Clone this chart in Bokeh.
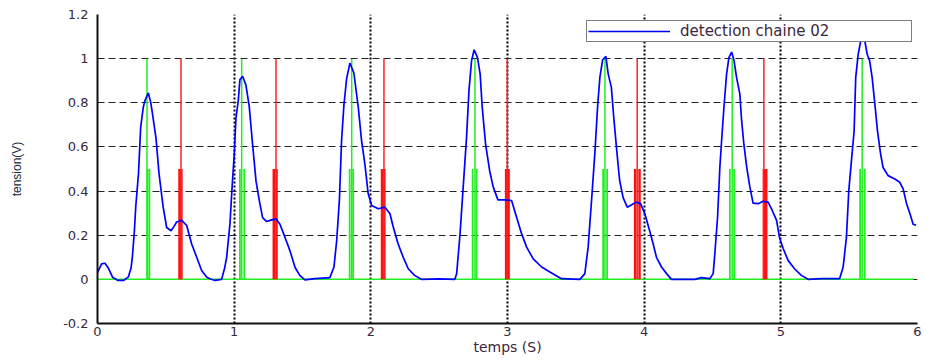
from bokeh.plotting import figure
from bokeh.models import (Range1d, FixedTicker, Legend, LegendItem,
                          ColumnDataSource)
from bokeh.embed import file_html
from bokeh.resources import INLINE

# ---------------- data ----------------
t = [0.00, 0.03, 0.055, 0.08, 0.11, 0.15, 0.19, 0.225, 0.245, 0.255, 0.27, 0.28,
     0.30, 0.316, 0.335, 0.347, 0.372, 0.39, 0.40, 0.428, 0.45, 0.48, 0.506, 0.538,
     0.56, 0.579, 0.616, 0.652, 0.689, 0.726, 0.762, 0.80, 0.823, 0.86, 0.908, 0.93,
     0.945, 0.969, 0.986, 1.0, 1.013, 1.03, 1.042, 1.062, 1.086, 1.11, 1.135, 1.16,
     1.184, 1.208, 1.238, 1.262, 1.306, 1.335, 1.372, 1.408, 1.445, 1.48, 1.518,
     1.59, 1.70, 1.73, 1.75, 1.77, 1.786, 1.803, 1.823, 1.847, 1.876, 1.908, 1.932,
     1.957, 1.98, 2.006, 2.054, 2.103, 2.14, 2.164, 2.20, 2.237, 2.274, 2.32, 2.37,
     2.50, 2.615, 2.628, 2.652, 2.676, 2.70, 2.718, 2.737, 2.756, 2.78, 2.80, 2.815,
     2.84, 2.87, 2.895, 2.93, 2.98, 3.03, 3.067, 3.103, 3.14, 3.188, 3.25, 3.31,
     3.395, 3.53, 3.566, 3.59, 3.615, 3.64, 3.66, 3.676, 3.696, 3.72, 3.737, 3.76,
     3.778, 3.80, 3.82, 3.846, 3.876, 3.90, 3.94, 3.974, 4.005, 4.04, 4.066, 4.09,
     4.127, 4.164, 4.20, 4.37, 4.42, 4.48, 4.505, 4.517, 4.537, 4.554, 4.57, 4.585,
     4.603, 4.62, 4.64, 4.658, 4.676, 4.70, 4.713, 4.73, 4.75, 4.773, 4.797, 4.834,
     4.87, 4.907, 4.937, 4.969, 4.99, 5.017, 5.053, 5.10, 5.15, 5.20, 5.30, 5.43,
     5.456, 5.48, 5.497, 5.517, 5.536, 5.548, 5.566, 5.60, 5.632, 5.65, 5.668,
     5.688, 5.707, 5.73, 5.748, 5.785, 5.834, 5.87, 5.895, 5.92, 5.945, 5.968, 5.99]
v = [0.03, 0.07, 0.073, 0.05, 0.01, -0.005, -0.005, 0.01, 0.05, 0.10, 0.22, 0.33,
     0.48, 0.69, 0.78, 0.81, 0.845, 0.80, 0.76, 0.64, 0.48, 0.33, 0.235, 0.22,
     0.24, 0.26, 0.267, 0.245, 0.16, 0.10, 0.04, 0.01, 0.003, -0.005, 0.0, 0.05,
     0.10, 0.25, 0.43, 0.56, 0.73, 0.81, 0.905, 0.92, 0.88, 0.785, 0.61, 0.445,
     0.357, 0.28, 0.262, 0.267, 0.274, 0.25, 0.19, 0.13, 0.055, 0.018, -0.002,
     0.003, 0.008, 0.055, 0.175, 0.36, 0.63, 0.79, 0.91, 0.98, 0.935, 0.78, 0.63,
     0.52, 0.39, 0.335, 0.32, 0.327, 0.297, 0.237, 0.16, 0.10, 0.048, 0.018, 0.0,
     0.002, 0.0, 0.026, 0.20, 0.42, 0.64, 0.855, 0.99, 1.04, 1.006, 0.93, 0.78,
     0.61, 0.49, 0.42, 0.36, 0.36, 0.357, 0.28, 0.207, 0.146, 0.093, 0.056, 0.033,
     0.003, 0.0, 0.026, 0.146, 0.357, 0.58, 0.79, 0.915, 0.995, 1.01, 0.93, 0.87,
     0.73, 0.58, 0.45, 0.37, 0.327, 0.335, 0.35, 0.343, 0.297, 0.22, 0.16, 0.10,
     0.056, 0.026, 0.0, 0.0, 0.008, 0.003, 0.026, 0.116, 0.28, 0.51, 0.66, 0.79,
     0.93, 1.005, 1.03, 0.99, 0.915, 0.84, 0.72, 0.61, 0.51, 0.42, 0.345, 0.343,
     0.354, 0.35, 0.312, 0.267, 0.19, 0.14, 0.086, 0.048, 0.018, 0.0, 0.003, 0.003,
     0.056, 0.19, 0.40, 0.54, 0.67, 0.915, 1.02, 1.13, 1.02, 0.99, 0.915,
     0.795, 0.674, 0.568, 0.507, 0.47, 0.455, 0.44, 0.41, 0.343, 0.297, 0.25, 0.245]

green_peak_t = [0.362, 1.055, 1.860, 2.762, 3.713, 4.644, 5.595]
green_peak_v = [1.0] * 7
green_half_t = [0.366, 0.380, 1.042, 1.074, 1.845, 1.871, 2.745, 2.774,
                3.700, 3.729, 4.627, 4.659, 5.580, 5.614]
green_half_v = [0.5] * 14

red_peak_t = [0.611, 1.306, 2.096, 2.998, 3.949, 4.876]
red_peak_v = [1.0] * 6
red_half_t = [0.600, 0.614, 1.290, 1.310, 2.082, 2.099, 2.990, 3.008,
              3.934, 3.966, 4.876, 4.893]
red_half_v = [0.5] * 12

baseline_t = [0.0, 5.97]
baseline_v = [0.0, 0.0]

x_ticks = [0, 1, 2, 3, 4, 5, 6]
x_tick_labels = ["0", "1", "2", "3", "4", "5", "6"]
y_ticks = [-0.2, 0.0, 0.2, 0.4, 0.6, 0.8, 1.0, 1.2]
y_tick_labels = ["-0.2", "0", "0.2", "0.4", "0.6", "0.8", "1", "1.2"]

series_name = "detection chaine 02"
x_title = "temps (S)"
y_title = "tension(V)"

# ---------------- figure ----------------
LABEL_COLOR = "#3a2740"

p = figure(width=926, height=358, x_range=Range1d(0, 6), y_range=Range1d(-0.2, 1.2),
           output_backend="svg", toolbar_location=None,
           min_border_left=97, min_border_right=9, min_border_top=14, min_border_bottom=35)
p.outline_line_color = None
p.background_fill_color = "white"
p.border_fill_color = "white"

# grids
p.xgrid.ticker = FixedTicker(ticks=x_ticks)
p.ygrid.ticker = FixedTicker(ticks=y_ticks)
p.xgrid.grid_line_color = "black"
p.xgrid.grid_line_dash = "2 2"
p.xgrid.grid_line_width = 2
p.ygrid.grid_line_color = "#222222"
p.ygrid.grid_line_dash = "7 4"
p.ygrid.grid_line_width = 1

# axes
for ax in (p.xaxis[0], p.yaxis[0]):
    ax.axis_line_color = "#111111"
    ax.axis_line_width = 2
    ax.major_tick_in = 0
    ax.major_tick_out = 0
    ax.minor_tick_in = 0
    ax.minor_tick_out = 0
    ax.major_label_text_font = "DejaVu Sans"
    ax.major_label_text_font_size = "13px"
    ax.major_label_text_color = LABEL_COLOR

p.xaxis[0].ticker = FixedTicker(ticks=x_ticks)
p.xaxis[0].major_label_overrides = {k: s for k, s in zip(x_ticks, x_tick_labels)}
p.xaxis[0].major_label_standoff = 3
p.xaxis[0].axis_label = x_title
p.xaxis[0].axis_label_text_font = "DejaVu Sans"
p.xaxis[0].axis_label_text_font_size = "14px"
p.xaxis[0].axis_label_text_font_style = "normal"
p.xaxis[0].axis_label_text_color = LABEL_COLOR
p.xaxis[0].axis_label_standoff = 0

p.yaxis[0].ticker = FixedTicker(ticks=y_ticks)
p.yaxis[0].major_label_overrides = {k: s for k, s in zip(y_ticks, y_tick_labels)}
p.yaxis[0].major_label_standoff = 9
p.yaxis[0].axis_label = y_title
p.yaxis[0].axis_label_text_font = "Liberation Sans"
p.yaxis[0].axis_label_text_font_size = "12px"
p.yaxis[0].axis_label_text_font_style = "normal"
p.yaxis[0].axis_label_text_color = "#1c2a3a"
p.yaxis[0].axis_label_standoff = 36

# signal markers
p.line(baseline_t, baseline_v, line_color="#22ee22", line_width=1.5)
p.segment(x0=green_half_t, y0=[0] * len(green_half_t), x1=green_half_t, y1=green_half_v,
          line_color="#22ee22", line_width=1.8)
p.segment(x0=green_peak_t, y0=[0] * len(green_peak_t), x1=green_peak_t, y1=green_peak_v,
          line_color="#22ee22", line_width=1.5)
p.segment(x0=red_half_t, y0=[0] * len(red_half_t), x1=red_half_t, y1=red_half_v,
          line_color="#ff1111", line_width=2.5)
p.segment(x0=red_peak_t, y0=[0] * len(red_peak_t), x1=red_peak_t, y1=red_peak_v,
          line_color="#ff2222", line_width=1.5)

src = ColumnDataSource(dict(t=t, v=v))
blue = p.line("t", "v", source=src, line_color="#0000ff", line_width=1.7)

legend = Legend(items=[LegendItem(label=series_name, renderers=[blue])],
                location=(489, 281), margin=0, padding=1, spacing=0,
                glyph_width=82, glyph_height=12, label_standoff=10,
                label_width=230, label_height=12,
                label_text_font="DejaVu Sans", label_text_font_size="15px",
                label_text_color=LABEL_COLOR,
                border_line_color="black", border_line_width=1,
                background_fill_color="white", background_fill_alpha=1.0)
p.add_layout(legend)

open("out.html", "w").write(file_html(p, INLINE))
